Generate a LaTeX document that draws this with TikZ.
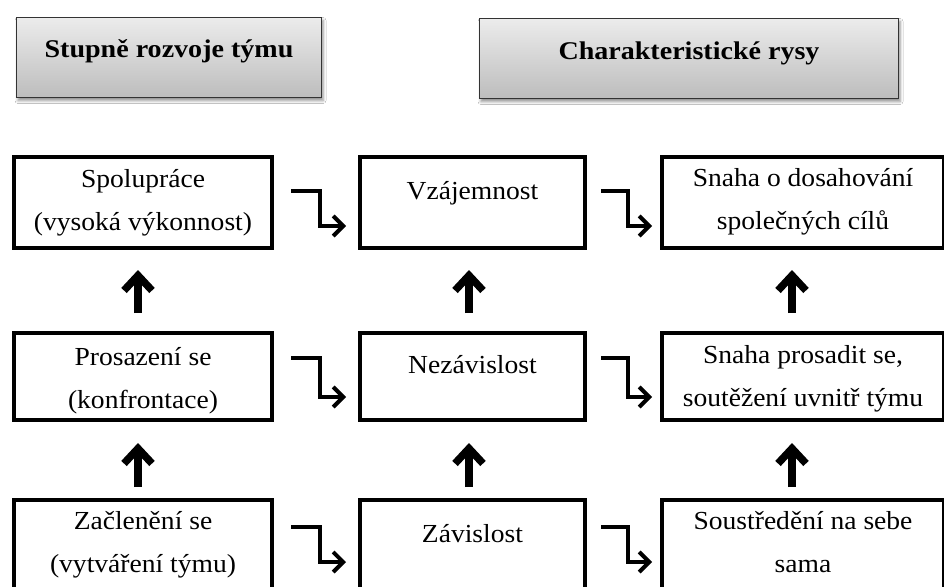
\documentclass[tikz,border=0pt]{standalone}
\usepackage{fontspec}
\setmainfont{Liberation Serif}[FakeStretch=1.06]
\usetikzlibrary{arrows.meta,calc,shadows.blur}
% two centred lines whose baseline is the baseline of the first line
\newcommand\twolines[2]{\begin{tabular}[t]{@{}c@{}}#1\\#2\end{tabular}}

\begin{document}
\begin{tikzpicture}[x=1pt,y=-1pt,
  stagebox/.style={draw=black, line width=4pt, fill=white, inner sep=0pt},
  headbox/.style={draw=black!80, line width=1.3pt, top color=gray!15, bottom color=gray!52,
    blur shadow={shadow xshift=1.5pt, shadow yshift=-3pt, shadow blur radius=3pt, shadow opacity=45},
    inner sep=0pt},
  lbl/.style={font=\fontsize{26}{43}\selectfont, anchor=base, inner sep=0pt},
  hlbl/.style={font=\fontsize{25.5}{30}\selectfont\bfseries, anchor=base, inner sep=0pt},
  elbow/.style={line width=4pt, line join=miter, -{Straight Barb[length=10pt,width=20pt]}},
  uparrow/.style={line width=7.5pt, -{Straight Barb[length=15pt,width=28pt]}},
]
\clip (0,0) rectangle (944,586);
\fill[white] (0,0) rectangle (944,586);

% column headings
\node[headbox, minimum width=305pt, minimum height=80pt] (h1) at (169,57.5) {};
\node[headbox, minimum width=419pt, minimum height=80pt] (h2) at (689,58.5) {};
\node[hlbl] (h1t) at ($(h1.north)+(0,41)$) {\addfontfeature{FakeStretch=1.1}Stupně rozvoje týmu};
\node[hlbl] (h2t) at ($(h2.north)+(0,42)$) {\addfontfeature{FakeStretch=1.1}Charakteristické rysy};

% stage boxes: column a = stage, b = relation, c = features
\node[stagebox, minimum width=258pt, minimum height=91pt] (a1) at (143,202.5) {};
\node[stagebox, minimum width=225pt, minimum height=91pt] (b1) at (472.5,202.5) {};
\node[stagebox, minimum width=282pt, minimum height=91pt] (c1) at (803,202.5) {};
\node[stagebox, minimum width=258pt, minimum height=87pt] (a2) at (143,376.5) {};
\node[stagebox, minimum width=225pt, minimum height=87pt] (b2) at (472.5,376.5) {};
\node[stagebox, minimum width=282pt, minimum height=87pt] (c2) at (803,376.5) {};
\node[stagebox, minimum width=258pt, minimum height=92pt] (a3) at (143,546) {};
\node[stagebox, minimum width=225pt, minimum height=92pt] (b3) at (472.5,546) {};
\node[stagebox, minimum width=282pt, minimum height=92pt] (c3) at (803,546) {};

\node[lbl] (a1t) at ($(a1.north)+(0,32)$) {\twolines{Spolupráce}{(vysoká výkonnost)}};
\node[lbl] (b1t) at ($(b1.north)+(0,44)$) {Vzájemnost};
\node[lbl] (c1t) at ($(c1.north)+(0,31)$) {\twolines{Snaha o dosahování}{společných cílů}};
\node[lbl] (a2t) at ($(a2.north)+(0,34)$) {\twolines{Prosazení se}{(konfrontace)}};
\node[lbl] (b2t) at ($(b2.north)+(0,42)$) {Nezávislost};
\node[lbl] (c2t) at ($(c2.north)+(0,32)$) {\twolines{Snaha prosadit se,}{soutěžení uvnitř týmu}};
\node[lbl] (a3t) at ($(a3.north)+(0,31)$) {\twolines{Začlenění se}{(vytváření týmu)}};
\node[lbl] (b3t) at ($(b3.north)+(0,44)$) {Závislost};
\node[lbl] (c3t) at ($(c3.north)+(0,31)$) {\twolines{Soustředění na sebe}{sama}};

% stepped arrows between neighbouring boxes of a row
\foreach \l/\r/\up/\dn in {a1/b1/-11.5/23.5, a2/b2/-18.5/20.5, a3/b3/-19/16}{
  \draw[elbow] ($(\l.east)+(17,\up)$) -| ($(\r.west)+(-38,\dn)$) -- ($(\r.west)+(-12,\dn)$);
}
\foreach \l/\r/\up/\dn in {b1/c1/-11.5/23.5, b2/c2/-18.5/20.5, b3/c3/-19/16}{
  \draw[elbow] ($(\l.east)+(14,\up)$) -| ($(\r.west)+(-32,\dn)$) -- ($(\r.west)+(-8,\dn)$);
}

% upward arrows between the rows
\foreach \c/\dx in {a/-5, b/-3.5, c/-11}{
  \draw[uparrow] ($(\c2.north)+(\dx,-18)$) -- ($(\c1.south)+(\dx,20)$);
  \draw[uparrow] ($(\c3.north)+(\dx,-11)$) -- ($(\c2.south)+(\dx,21)$);
}
\end{tikzpicture}
\end{document}
